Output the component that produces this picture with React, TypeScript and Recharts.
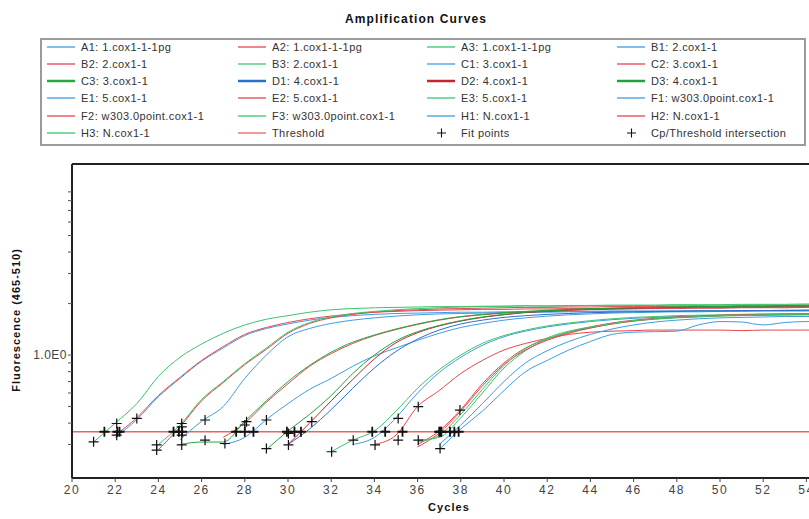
import React from 'react';
import { ComposedChart, Line, Scatter, XAxis, YAxis, ReferenceLine } from 'recharts';

// cycle grid and axis setup
const CYCLES = [20, 21, 22, 23, 24, 25, 26, 27, 28, 29, 30, 31, 32, 33, 34, 35, 36, 37, 38, 39, 40, 41, 42, 43, 44, 45, 46, 47, 48, 49, 50, 51, 52, 53, 54, 55];
const X_TICKS = [20, 22, 24, 26, 28, 30, 32, 34, 36, 38, 40, 42, 44, 46, 48, 50, 52, 54];
const Y_TICKS = [0.3, 0.4, 0.5, 0.6, 0.7, 0.8, 0.9, 1, 2, 3, 4, 5, 6, 7, 8, 9];
const X_DOMAIN = [20, 54.12];
const Y_DOMAIN = [0.191, 13.1];
const THRESHOLD = 0.356;

// samples: well, sample name, first cycle drawn
const SAMPLE_KEYS = ['A1', 'A2', 'A3', 'B1', 'B2', 'B3', 'C1', 'C2', 'C3', 'D1', 'D2', 'D3', 'E1', 'E2', 'E3', 'F1', 'F2', 'F3', 'H1', 'H2', 'H3'];
const SAMPLE_NAMES = ['1.cox1-1-1pg', '1.cox1-1-1pg', '1.cox1-1-1pg', '2.cox1-1', '2.cox1-1', '2.cox1-1', '3.cox1-1', '3.cox1-1', '3.cox1-1', '4.cox1-1', '4.cox1-1', '4.cox1-1', '5.cox1-1', '5.cox1-1', '5.cox1-1', 'w303.0point.cox1-1', 'w303.0point.cox1-1', 'w303.0point.cox1-1', 'N.cox1-1', 'N.cox1-1', 'N.cox1-1'];
const SAMPLE_STARTS = [22, 22, 21, 25, 24, 24, 27, 27, 25, 30, 30, 29, 33, 34, 32, 37, 36, 36, 37, 36, 36];

// fluorescence per cycle, from the first drawn cycle on
const A1 = [0.33, 0.42, 0.57, 0.73, 0.92, 1.10, 1.30, 1.43, 1.52, 1.60, 1.66, 1.70, 1.73, 1.75, 1.76, 1.77, 1.78, 1.78, 1.79, 1.79, 1.80, 1.80, 1.80, 1.81, 1.81, 1.81, 1.81, 1.82, 1.82, 1.82, 1.82, 1.83, 1.83, 1.83];
const A2 = [0.34, 0.43, 0.58, 0.74, 0.93, 1.12, 1.32, 1.45, 1.55, 1.63, 1.69, 1.74, 1.78, 1.80, 1.82, 1.83, 1.84, 1.85, 1.85, 1.86, 1.86, 1.87, 1.87, 1.87, 1.88, 1.88, 1.89, 1.89, 1.89, 1.90, 1.90, 1.90, 1.91, 1.91];
const A3 = [0.31, 0.40, 0.52, 0.75, 0.97, 1.16, 1.34, 1.50, 1.62, 1.70, 1.78, 1.84, 1.87, 1.89, 1.90, 1.91, 1.92, 1.92, 1.93, 1.93, 1.94, 1.93, 1.94, 1.95, 1.94, 1.95, 1.95, 1.96, 1.95, 1.96, 1.96, 1.97, 1.96, 1.97, 1.97];
const B1 = [0.32, 0.41, 0.50, 0.73, 1.00, 1.28, 1.43, 1.53, 1.60, 1.65, 1.69, 1.72, 1.74, 1.75, 1.76, 1.77, 1.78, 1.78, 1.79, 1.79, 1.80, 1.80, 1.80, 1.81, 1.81, 1.81, 1.82, 1.82, 1.82, 1.82, 1.83];
const B2 = [0.28, 0.38, 0.54, 0.69, 0.88, 1.08, 1.34, 1.53, 1.65, 1.73, 1.78, 1.82, 1.84, 1.86, 1.87, 1.88, 1.89, 1.90, 1.90, 1.91, 1.91, 1.92, 1.92, 1.92, 1.93, 1.93, 1.93, 1.94, 1.94, 1.94, 1.94, 1.95];
const B3 = [0.30, 0.39, 0.55, 0.70, 0.89, 1.10, 1.36, 1.55, 1.67, 1.75, 1.80, 1.84, 1.87, 1.89, 1.91, 1.92, 1.93, 1.94, 1.94, 1.95, 1.95, 1.96, 1.96, 1.96, 1.97, 1.97, 1.97, 1.98, 1.98, 1.98, 1.99, 1.99];
const C1 = [0.30, 0.33, 0.42, 0.52, 0.63, 0.73, 0.86, 0.99, 1.10, 1.22, 1.34, 1.45, 1.53, 1.60, 1.65, 1.69, 1.72, 1.74, 1.76, 1.77, 1.78, 1.79, 1.79, 1.80, 1.80, 1.81, 1.81, 1.81, 1.82];
const C2 = [0.33, 0.40, 0.53, 0.68, 0.86, 1.02, 1.17, 1.30, 1.41, 1.51, 1.60, 1.67, 1.72, 1.76, 1.79, 1.81, 1.83, 1.84, 1.85, 1.86, 1.87, 1.87, 1.88, 1.88, 1.89, 1.89, 1.89, 1.90, 1.90];
const C3 = [0.30, 0.31, 0.31, 0.41, 0.54, 0.70, 0.87, 1.04, 1.19, 1.31, 1.42, 1.52, 1.61, 1.68, 1.73, 1.77, 1.80, 1.83, 1.85, 1.87, 1.88, 1.89, 1.90, 1.91, 1.92, 1.92, 1.93, 1.93, 1.94, 1.94, 1.95];
const D1 = [0.30, 0.37, 0.48, 0.64, 0.84, 1.05, 1.24, 1.40, 1.52, 1.60, 1.66, 1.70, 1.73, 1.75, 1.77, 1.78, 1.79, 1.80, 1.80, 1.81, 1.81, 1.82, 1.82, 1.82, 1.83, 1.83];
const D2 = [0.30, 0.40, 0.54, 0.72, 0.95, 1.18, 1.35, 1.48, 1.58, 1.66, 1.72, 1.77, 1.80, 1.83, 1.85, 1.87, 1.88, 1.89, 1.90, 1.91, 1.91, 1.92, 1.92, 1.93, 1.93, 1.93];
const D3 = [0.28, 0.36, 0.45, 0.58, 0.78, 1.00, 1.21, 1.37, 1.49, 1.59, 1.67, 1.73, 1.78, 1.81, 1.84, 1.86, 1.88, 1.89, 1.90, 1.91, 1.92, 1.92, 1.93, 1.93, 1.94, 1.94, 1.94];
const E1 = [0.30, 0.33, 0.43, 0.60, 0.79, 0.97, 1.14, 1.28, 1.38, 1.46, 1.52, 1.57, 1.61, 1.64, 1.66, 1.68, 1.69, 1.70, 1.71, 1.71, 1.72, 1.72, 1.72];
const E2 = [0.30, 0.34, 0.50, 0.62, 0.78, 0.93, 1.07, 1.17, 1.25, 1.32, 1.36, 1.38, 1.39, 1.40, 1.40, 1.40, 1.40, 1.39, 1.40, 1.40, 1.40, 1.40];
const E3 = [0.272, 0.318, 0.36, 0.47, 0.64, 0.82, 1.00, 1.17, 1.30, 1.40, 1.48, 1.54, 1.59, 1.63, 1.66, 1.68, 1.70, 1.71, 1.72, 1.73, 1.74, 1.74, 1.75, 1.75];
const F1 = [0.28, 0.37, 0.47, 0.62, 0.80, 0.93, 1.07, 1.20, 1.32, 1.36, 1.37, 1.38, 1.50, 1.57, 1.56, 1.50, 1.55, 1.57, 1.57];
const F2 = [0.30, 0.36, 0.48, 0.68, 0.90, 1.10, 1.24, 1.36, 1.46, 1.54, 1.60, 1.64, 1.67, 1.69, 1.71, 1.72, 1.73, 1.74, 1.74, 1.75];
const F3 = [0.318, 0.33, 0.43, 0.60, 0.84, 1.06, 1.24, 1.36, 1.44, 1.52, 1.58, 1.62, 1.65, 1.67, 1.69, 1.70, 1.71, 1.72, 1.72, 1.73];
const H1 = [0.30, 0.39, 0.52, 0.70, 0.90, 1.06, 1.20, 1.32, 1.42, 1.50, 1.56, 1.60, 1.63, 1.65, 1.66, 1.67, 1.68, 1.68, 1.69];
const H2 = [0.29, 0.35, 0.47, 0.66, 0.88, 1.07, 1.22, 1.34, 1.44, 1.52, 1.58, 1.63, 1.66, 1.68, 1.70, 1.71, 1.72, 1.72, 1.73, 1.73];
const H3 = [0.31, 0.34, 0.45, 0.63, 0.87, 1.09, 1.26, 1.38, 1.46, 1.53, 1.59, 1.63, 1.66, 1.68, 1.70, 1.71, 1.72, 1.73, 1.73, 1.74];
const SAMPLE_VALUES = [A1, A2, A3, B1, B2, B3, C1, C2, C3, D1, D2, D3, E1, E2, E3, F1, F2, F3, H1, H2, H3];

// fit points and Cp/threshold crossings
const FIT_CYCLES = [21.0, 22.07, 22.07, 23.0, 23.92, 23.92, 25.08, 25.08, 25.08, 25.08, 26.16, 26.16, 27.08, 28.08, 28.0, 29.0, 29.0, 30.02, 30.02, 31.1, 32.02, 33.02, 34.03, 35.1, 35.1, 36.03, 36.03, 37.04, 37.96];
const FIT_VALUES = [0.311, 0.398, 0.34, 0.426, 0.298, 0.278, 0.398, 0.38, 0.34, 0.298, 0.417, 0.318, 0.304, 0.408, 0.39, 0.417, 0.284, 0.348, 0.298, 0.408, 0.272, 0.318, 0.298, 0.426, 0.318, 0.499, 0.318, 0.284, 0.477];
const CP_CYCLES = [21.5, 22.1, 22.2, 24.7, 24.95, 25.1, 27.6, 28.0, 28.4, 29.95, 30.3, 30.6, 33.9, 34.5, 35.3, 37.0, 37.05, 37.1, 37.5, 37.7, 37.9];

const BLUE = '#3f9ddf';
const RED = '#e2474f';
const GREEN = '#3cc46c';
const SAMPLE_COLORS = [BLUE, RED, GREEN, BLUE, RED, GREEN, BLUE, RED, '#23a943', '#2b6fcc', '#c4242f', '#22a03c', BLUE, RED, GREEN, BLUE, RED, GREEN, BLUE, RED, GREEN];
const SAMPLE_BOLD = [false, false, false, false, false, false, false, false, true, true, true, true, false, false, false, false, false, false, false, false, false];
const THRESHOLD_COLOR = '#e5675f';

const W = 809;
const H = 519;
const PLOT_LEFT = 72;
const PLOT_TOP = 164;
const PLOT_BOTTOM = 478;
const FONT = '"Liberation Sans", Arial, sans-serif';

const rows = CYCLES.map((cycle) => {
  const row: Record<string, number> = { cycle };
  SAMPLE_KEYS.forEach((key, i) => {
    const v = SAMPLE_VALUES[i][cycle - SAMPLE_STARTS[i]];
    if (cycle >= SAMPLE_STARTS[i] && v !== undefined) row[key] = v;
  });
  return row;
});

const fitPoints = FIT_CYCLES.map((cycle, i) => ({ cycle, v: FIT_VALUES[i] }));
const cpPoints = CP_CYCLES.map((cycle) => ({ cycle, v: THRESHOLD }));

const plusShape = (size: number, weight: number) => (props: any) => {
  const { cx, cy } = props;
  if (cx == null || cy == null) return <g />;
  const h = size / 2;
  return (
    <path
      d={`M${cx - h},${cy}H${cx + h}M${cx},${cy - h}V${cy + h}`}
      stroke="#111"
      strokeWidth={weight}
      fill="none"
    />
  );
};

const LEGEND_COL_X = [47, 238, 427, 617];
const LEGEND_ROW_Y = [47, 64, 81, 98, 116, 133];

type LegendItem = { label: string; color?: string; width?: number; plus?: boolean };

const legendItems: LegendItem[] = [
  ...SAMPLE_KEYS.map((key, i) => ({
    label: `${key}: ${SAMPLE_NAMES[i]}`,
    color: SAMPLE_COLORS[i],
    width: SAMPLE_BOLD[i] ? 2.5 : 1.3,
  })),
  { label: 'Threshold', color: THRESHOLD_COLOR, width: 1.3 },
  { label: 'Fit points', plus: true },
  { label: 'Cp/Threshold intersection', plus: true },
];

const LegendBox = () => (
  <div
    style={{
      position: 'absolute',
      left: 40,
      top: 38,
      width: 766,
      height: 108,
      border: '2px solid #9b9b9b',
      boxSizing: 'border-box',
    }}
  >
    {legendItems.map((item, j) => {
      const col = j % 4;
      const row = Math.floor(j / 4);
      return (
        <div
          key={item.label}
          style={{
            position: 'absolute',
            left: LEGEND_COL_X[col] - 42,
            top: LEGEND_ROW_Y[row] - 40 - 8,
            height: 16,
            display: 'flex',
            alignItems: 'center',
            whiteSpace: 'nowrap',
          }}
        >
          <svg width={29} height={16} style={{ display: 'block' }}>
            {item.plus ? (
              <path d="M10,8H19M14.5,3.5V12.5" stroke="#111" strokeWidth={1.1} />
            ) : (
              <line x1={0} x2={28} y1={8} y2={8} stroke={item.color} strokeWidth={item.width} />
            )}
          </svg>
          <span style={{ marginLeft: 5, fontSize: 11, letterSpacing: 0.4, color: '#333' }}>{item.label}</span>
        </div>
      );
    })}
  </div>
);

const AmplificationChart = () => (
  <ComposedChart
    width={W}
    height={H}
    data={rows}
    margin={{ top: PLOT_TOP, right: 0, bottom: H - PLOT_BOTTOM - 30, left: 0 }}
  >
    <XAxis
      dataKey="cycle"
      type="number"
      domain={X_DOMAIN}
      allowDataOverflow
      ticks={X_TICKS}
      interval={0}
      height={30}
      axisLine={{ stroke: '#222', strokeWidth: 2 }}
      tickLine={{ stroke: '#444' }}
      tickSize={4}
      tickMargin={3}
      tick={{ fontSize: 12, fill: '#444', fontFamily: FONT, letterSpacing: 1.5 }}
    />
    <YAxis
      type="number"
      scale="log"
      domain={Y_DOMAIN}
      allowDataOverflow
      ticks={Y_TICKS}
      interval={0}
      width={PLOT_LEFT}
      axisLine={{ stroke: '#222', strokeWidth: 2 }}
      tickLine={{ stroke: '#555' }}
      tickSize={4}
      tickMargin={1}
      tickFormatter={(v: number) => (v === 1 ? '1.0E0' : '')}
      tick={{ fontSize: 12, fill: '#444', fontFamily: FONT, letterSpacing: 0.5 }}
    />
    <ReferenceLine y={Y_DOMAIN[1]} stroke="#222" strokeWidth={2} />
    <ReferenceLine y={THRESHOLD} stroke={THRESHOLD_COLOR} strokeWidth={1.5} />
    {SAMPLE_KEYS.map((key, i) => (
      <Line
        key={key}
        dataKey={key}
        type="monotone"
        stroke={SAMPLE_COLORS[i]}
        strokeWidth={1}
        dot={false}
        activeDot={false}
        isAnimationActive={false}
      />
    ))}
    <Scatter data={fitPoints} dataKey="v" shape={plusShape(10, 1.2)} isAnimationActive={false} />
    <Scatter data={cpPoints} dataKey="v" shape={plusShape(10, 1.8)} isAnimationActive={false} />
  </ComposedChart>
);

export default function App() {
  return (
    <div
      style={{
        position: 'absolute',
        left: 0,
        top: 0,
        width: W,
        height: H,
        background: '#fff',
        fontFamily: FONT,
        overflow: 'hidden',
      }}
    >
      <div
        style={{
          position: 'absolute',
          left: 416,
          top: 19,
          transform: 'translate(-50%, -50%)',
          fontSize: 12,
          fontWeight: 'bold',
          letterSpacing: 1.1,
          color: '#111',
          whiteSpace: 'nowrap',
        }}
      >
        Amplification Curves
      </div>
      <LegendBox />
      <div style={{ position: 'absolute', left: 0, top: 0 }}>
        <AmplificationChart />
      </div>
      <div
        style={{
          position: 'absolute',
          left: 16,
          top: 320,
          transform: 'translate(-50%, -50%) rotate(-90deg)',
          fontSize: 11,
          fontWeight: 'bold',
          letterSpacing: 1,
          color: '#111',
          whiteSpace: 'nowrap',
        }}
      >
        Fluorescence (465-510)
      </div>
      <div
        style={{
          position: 'absolute',
          left: 449,
          top: 507,
          transform: 'translate(-50%, -50%)',
          fontSize: 11,
          fontWeight: 'bold',
          letterSpacing: 1.1,
          color: '#111',
        }}
      >
        Cycles
      </div>
    </div>
  );
}
